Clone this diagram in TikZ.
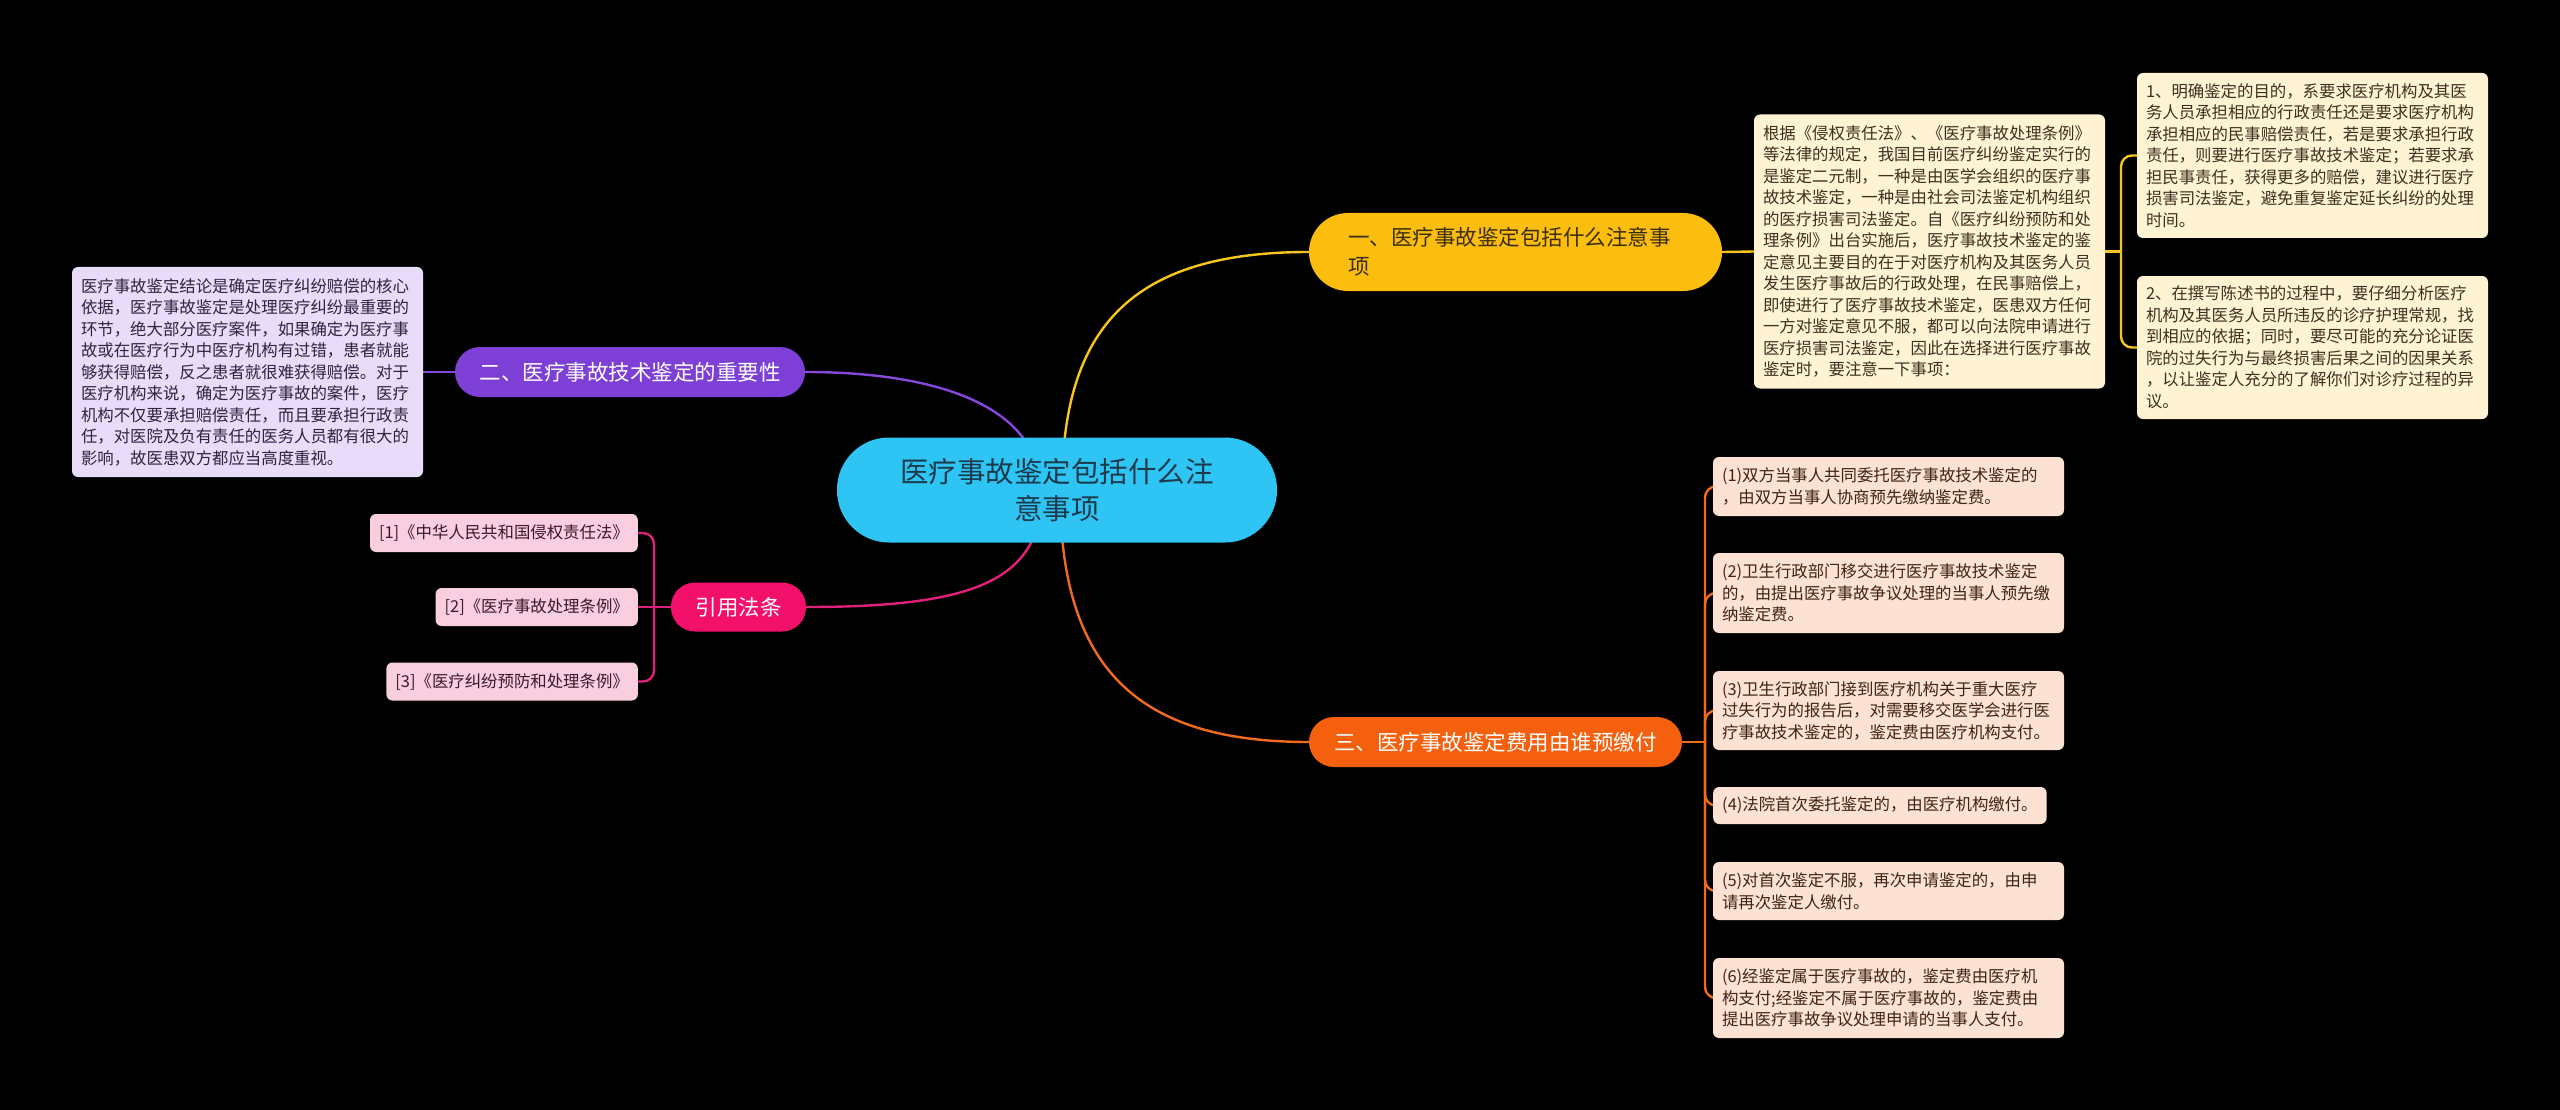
\documentclass[tikz,border=0pt]{standalone}
\usepackage{fontspec}
\setmainfont{Noto Sans CJK SC}
\usetikzlibrary{calc}
\definecolor{cblue}{HTML}{2EC4F3}
\definecolor{cbluetxt}{HTML}{1B3A4B}
\definecolor{cyel}{HTML}{FBBD0E}
\definecolor{cyelline}{HTML}{F8C51C}
\definecolor{cyeltxt}{HTML}{3A2E10}
\definecolor{cyelfill}{HTML}{FFF3D3}
\definecolor{cyelbox}{HTML}{3A3220}
\definecolor{cpur}{HTML}{7E3FD7}
\definecolor{cpurline}{HTML}{8548DA}
\definecolor{cpurfill}{HTML}{E7DCFA}
\definecolor{cpurtxt}{HTML}{2E2440}
\definecolor{cpink}{HTML}{F2106B}
\definecolor{cpinkline}{HTML}{E0217A}
\definecolor{cpinkfill}{HTML}{F9CEDF}
\definecolor{cpinktxt}{HTML}{3A1A28}
\definecolor{corg}{HTML}{F5600E}
\definecolor{corgline}{HTML}{F26B1D}
\definecolor{corgfill}{HTML}{FDE1D3}
\definecolor{corgtxt}{HTML}{3E2418}
\pgfdeclarelayer{back}
\pgfdeclarelayer{links}
\pgfsetlayers{back,links,main}
\tikzset{
  descbox/.style={rounded corners=6pt, inner xsep=9pt, inner ysep=0pt, align=left,
    font=\fontsize{16.4}{21.5}\selectfont},
  widebox/.style={descbox, text width=333pt},
  branch/.style={inner sep=0pt, font=\fontsize{21.5}{29}\selectfont},
  link/.style={line width=2.4pt},
  brace/.style={line width=2.4pt, rounded corners=11pt}
}
\begin{document}
\begin{tikzpicture}[x=1pt,y=-1pt]
\begin{pgfonlayer}{back}
\fill[black] (0,0) rectangle (2560,1110);
\end{pgfonlayer}
\useasboundingbox (0,0) rectangle (2560,1110);

% central
\node[fill=cblue, text=cbluetxt, minimum width=440pt, minimum height=105pt, rounded corners=52pt,
  inner sep=0pt, align=center, font=\fontsize{28.5}{36.7}\selectfont] (c) at (1057,490)
  {医疗事故鉴定包括什么注\\意事项};

% branch 1 (yellow)
\node[branch, fill=cyel, text=cyeltxt, text width=335pt, inner xsep=39pt, minimum height=78pt,
  rounded corners=39pt, align=left] (y1) at (1515.5,252)
  {一、医疗事故鉴定包括什么注意事\\项};
\node[widebox, fill=cyelfill, text=cyelbox, minimum height=274pt] (yd) at (1929.5,251.5)
  {根据《侵权责任法》、《医疗事故处理条例》\\
   等法律的规定，我国目前医疗纠纷鉴定实行的\\
   是鉴定二元制，一种是由医学会组织的医疗事\\
   故技术鉴定，一种是由社会司法鉴定机构组织\\
   的医疗损害司法鉴定。自《医疗纠纷预防和处\\
   理条例》出台实施后，医疗事故技术鉴定的鉴\\
   定意见主要目的在于对医疗机构及其医务人员\\
   发生医疗事故后的行政处理，在民事赔偿上，\\
   即使进行了医疗事故技术鉴定，医患双方任何\\
   一方对鉴定意见不服，都可以向法院申请进行\\
   医疗损害司法鉴定，因此在选择进行医疗事故\\
   鉴定时，要注意一下事项：};
\node[widebox, fill=cyelfill, text=cyelbox, minimum height=165pt] (r1) at (2312.5,155.5)
  {1、明确鉴定的目的，系要求医疗机构及其医\\
   务人员承担相应的行政责任还是要求医疗机构\\
   承担相应的民事赔偿责任，若是要求承担行政\\
   责任，则要进行医疗事故技术鉴定；若要求承\\
   担民事责任，获得更多的赔偿，建议进行医疗\\
   损害司法鉴定，避免重复鉴定延长纠纷的处理\\
   时间。};
\node[widebox, fill=cyelfill, text=cyelbox, minimum height=143pt] (r2) at (2312.5,347.5)
  {2、在撰写陈述书的过程中，要仔细分析医疗\\
   机构及其医务人员所违反的诊疗护理常规，找\\
   到相应的依据；同时，要尽可能的充分论证医\\
   院的过失行为与最终损害后果之间的因果关系\\
   ，以让鉴定人充分的了解你们对诊疗过程的异\\
   议。};
\coordinate (jy) at (2121,251.5);

% branch 2 (purple)
\node[branch, fill=cpur, text=white, minimum width=350pt, minimum height=50pt,
  rounded corners=25pt] (p1) at (630,372) {二、医疗事故技术鉴定的重要性};
\node[widebox, fill=cpurfill, text=cpurtxt, minimum height=210pt] (pd) at (247.5,372)
  {医疗事故鉴定结论是确定医疗纠纷赔偿的核心\\
   依据，医疗事故鉴定是处理医疗纠纷最重要的\\
   环节，绝大部分医疗案件，如果确定为医疗事\\
   故或在医疗行为中医疗机构有过错，患者就能\\
   够获得赔偿，反之患者就很难获得赔偿。对于\\
   医疗机构来说，确定为医疗事故的案件，医疗\\
   机构不仅要承担赔偿责任，而且要承担行政责\\
   任，对医院及负有责任的医务人员都有很大的\\
   影响，故医患双方都应当高度重视。};

% branch 4 (pink)
\node[branch, fill=cpink, text=white, minimum width=135pt, minimum height=49pt,
  rounded corners=24pt] (k1) at (738.5,607) {引用法条};
\node[descbox, fill=cpinkfill, text=cpinktxt, minimum height=38pt, anchor=east] (q1) at (638,533)
  {[1]《中华人民共和国侵权责任法》};
\node[descbox, fill=cpinkfill, text=cpinktxt, minimum height=38pt, anchor=east] (q2) at (638,607)
  {[2]《医疗事故处理条例》};
\node[descbox, fill=cpinkfill, text=cpinktxt, minimum height=38pt, anchor=east] (q3) at (638,681.5)
  {[3]《医疗纠纷预防和处理条例》};
\coordinate (jk) at (654,607);

% branch 3 (orange)
\node[branch, fill=corg, text=white, minimum width=373pt, minimum height=50pt,
  rounded corners=25pt] (o1) at (1495.5,742) {三、医疗事故鉴定费用由谁预缴付};
\node[widebox, fill=corgfill, text=corgtxt, minimum height=59pt] (b1) at (1888.5,486.5)
  {(1)双方当事人共同委托医疗事故技术鉴定的\\
   ，由双方当事人协商预先缴纳鉴定费。};
\node[widebox, fill=corgfill, text=corgtxt, minimum height=80pt] (b2) at (1888.5,593)
  {(2)卫生行政部门移交进行医疗事故技术鉴定\\
   的，由提出医疗事故争议处理的当事人预先缴\\
   纳鉴定费。};
\node[widebox, fill=corgfill, text=corgtxt, minimum height=79pt] (b3) at (1888.5,710.5)
  {(3)卫生行政部门接到医疗机构关于重大医疗\\
   过失行为的报告后，对需要移交医学会进行医\\
   疗事故技术鉴定的，鉴定费由医疗机构支付。};
\node[descbox, fill=corgfill, text=corgtxt, minimum height=37pt, anchor=west] (b4) at (1713,805.5)
  {(4)法院首次委托鉴定的，由医疗机构缴付。};
\node[widebox, fill=corgfill, text=corgtxt, minimum height=58pt] (b5) at (1888.5,891)
  {(5)对首次鉴定不服，再次申请鉴定的，由申\\
   请再次鉴定人缴付。};
\node[widebox, fill=corgfill, text=corgtxt, minimum height=80pt] (b6) at (1888.5,998)
  {(6)经鉴定属于医疗事故的，鉴定费由医疗机\\
   构支付;经鉴定不属于医疗事故的，鉴定费由\\
   提出医疗事故争议处理申请的当事人支付。};
\coordinate (jo) at (1705,742);

\begin{pgfonlayer}{links}
% central to branches
\draw[link, cyelline] ([xshift=5pt]c.center) .. controls +(0,-160) and +(-180,0) .. (y1.west);
\draw[link, cpurline] ([xshift=-17pt]c.center) .. controls +(0,-80) and +(140,0) .. (p1.east);
\draw[link, cpinkline] ([xshift=-15pt]c.center) .. controls +(0,90) and +(170,0) .. (k1.east);
\draw[link, corgline] ([xshift=3pt]c.center) .. controls +(0,180) and +(-170,0) .. (o1.west);
% yellow
\draw[link, cyelline] (y1.east) -- (yd.west);
\draw[link, cyelline] (yd.east) -- (jy);
\draw[brace, cyelline] (jy) |- (r1.west);
\draw[brace, cyelline] (jy) |- (r2.west);
% purple
\draw[link, cpurline] (p1.west) -- (pd.east);
% pink
\draw[link, cpinkline] (k1.west) -- (jk);
\draw[brace, cpinkline] (jk) |- (q1.east);
\draw[link, cpinkline] (jk) -- (q2.east);
\draw[brace, cpinkline] (jk) |- (q3.east);
% orange
\draw[link, corgline] (o1.east) -- (jo);
\foreach \b in {b1,b2,b3,b4,b5,b6}{
  \draw[brace, corgline] (jo) |- (\b.west);
}
\end{pgfonlayer}
\end{tikzpicture}
\end{document}
